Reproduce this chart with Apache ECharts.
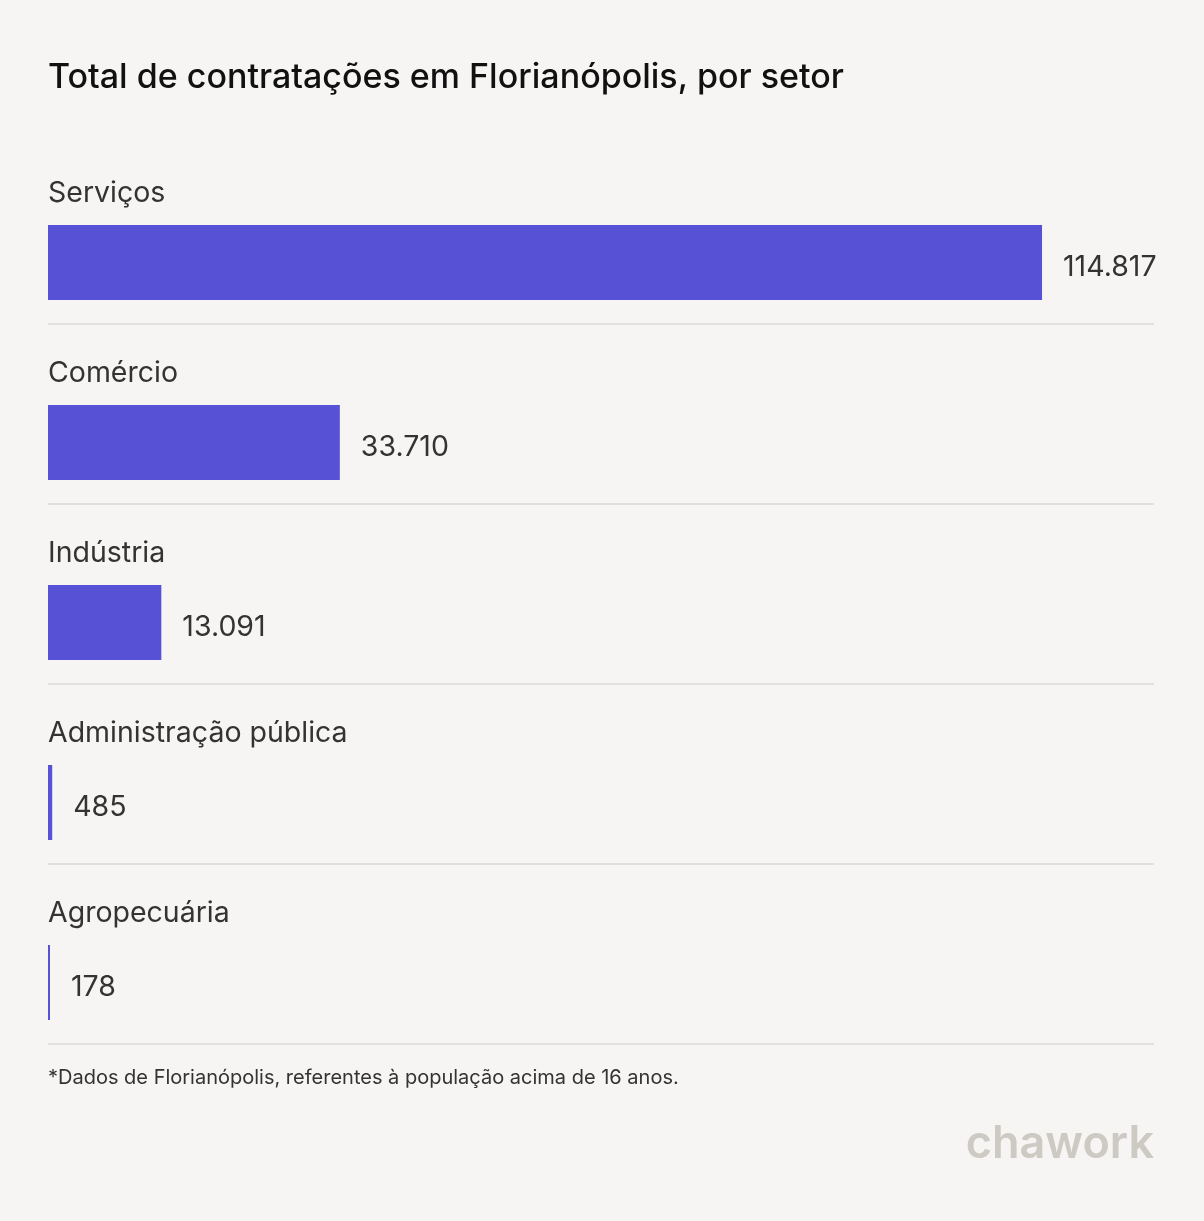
<!DOCTYPE html>
<html><head><meta charset="utf-8">
<script src="https://cdn.jsdelivr.net/npm/echarts@6/dist/echarts.min.js"></script>
<style>html,body{margin:0;padding:0;background:#f6f5f3;}#c{width:1204px;height:1221px;}</style>
</head><body><div id="c"></div>
<script>
const categories = ['Serviços', 'Comércio', 'Indústria', 'Administração pública', 'Agropecuária'];
const values = [114817, 33710, 13091, 485, 178];
const valueLabels = ['114.817', '33.710', '13.091', '485', '178'];
const titleText = 'Total de contratações em Florianópolis, por setor';
const footnote = '*Dados de Florianópolis, referentes à população acima de 16 anos.';
const brand = 'chawork';

const FONT = 'Inter, "Noto Sans", sans-serif';
const chart = echarts.init(document.getElementById('c'));
chart.setOption({
  backgroundColor: '#f6f5f3',
  animation: false,
  grid: { left: 48, right: 50, top: 144, height: 900 },
  xAxis: { type: 'value', min: 0, max: 127750, show: false },
  yAxis: { type: 'category', data: categories, inverse: true, show: false },
  graphic: [
    { type: 'text', left: 48, top: 61, style: { text: titleText, font: '500 34px ' + FONT, fill: '#111111' } },
    { type: 'text', left: 48, top: 1068, style: { text: footnote, font: '20px ' + FONT, fill: '#333333' } },
    { type: 'text', right: 50, top: 1122, style: { text: brand, font: '600 45px ' + FONT, fill: '#cdcac4' } }
  ],
  series: [{
    type: 'custom',
    data: values.map((v, i) => [v, i]),
    renderItem: function (params, api) {
      const idx = params.dataIndex;
      const end = api.coord([api.value(0), api.value(1)]);
      const start = api.coord([0, api.value(1)]);
      const band = api.size([0, 1])[1];
      const top = end[1] - band / 2;
      const cs = params.coordSys;
      const w = Math.max(end[0] - start[0], 2);
      return {
        type: 'group',
        children: [
          { type: 'text', style: { x: cs.x, y: top + 49, text: categories[idx], font: '28.5px ' + FONT, fill: '#333333', verticalAlign: 'middle', align: 'left' } },
          { type: 'rect', shape: { x: start[0], y: top + 81, width: w, height: 75 }, style: { fill: '#5751d6' } },
          { type: 'text', style: { x: start[0] + w + 21, y: top + 123, text: valueLabels[idx], font: '28.5px ' + FONT, fill: '#333333', verticalAlign: 'middle', align: 'left' } },
          { type: 'line', shape: { x1: cs.x, y1: top + band, x2: cs.x + cs.width, y2: top + band }, style: { stroke: '#e2e0dc', lineWidth: 2 } }
        ]
      };
    }
  }]
});
</script></body></html>
